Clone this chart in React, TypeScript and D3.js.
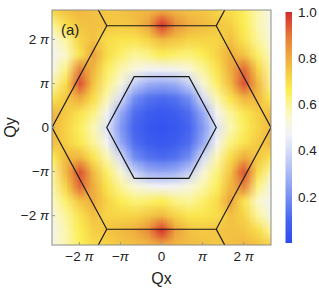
import React, { useMemo } from 'react'
import * as d3 from 'd3'

// grid of Q values (in units of pi), same for Qx and Qy
const qGrid = [-8/3, -7/3, -2, -5/3, -4/3, -1, -2/3, -1/3, 0, 1/3, 2/3, 1, 4/3, 5/3, 2, 7/3, 8/3]

// intensity, rows from Qy = 8π/3 (top) down to -8π/3
const field = [
  [0.72,0.76,0.78,0.76,0.74,0.76,0.77,0.78,0.80,0.78,0.76,0.75,0.72,0.70,0.65,0.58,0.50],
  [0.60,0.70,0.75,0.76,0.75,0.74,0.76,0.82,0.99,0.86,0.80,0.77,0.75,0.73,0.66,0.58,0.50],
  [0.50,0.60,0.72,0.76,0.70,0.68,0.68,0.72,0.78,0.75,0.72,0.72,0.72,0.76,0.68,0.60,0.52],
  [0.48,0.55,0.68,0.82,0.70,0.64,0.60,0.62,0.66,0.64,0.63,0.66,0.72,0.80,0.75,0.64,0.55],
  [0.50,0.62,0.88,0.78,0.65,0.58,0.52,0.48,0.47,0.49,0.53,0.60,0.68,0.80,0.92,0.72,0.58],
  [0.58,0.70,0.95,0.75,0.62,0.52,0.36,0.28,0.26,0.28,0.37,0.53,0.64,0.77,0.95,0.78,0.60],
  [0.68,0.75,0.80,0.70,0.57,0.40,0.19,0.13,0.11,0.13,0.19,0.40,0.57,0.68,0.78,0.78,0.66],
  [0.78,0.74,0.68,0.62,0.48,0.26,0.12,0.07,0.05,0.07,0.12,0.26,0.48,0.60,0.67,0.73,0.77],
  [0.78,0.72,0.65,0.57,0.42,0.22,0.10,0.05,0.03,0.05,0.10,0.22,0.42,0.57,0.65,0.72,0.78],
  [0.77,0.73,0.67,0.60,0.48,0.26,0.12,0.07,0.05,0.07,0.12,0.26,0.48,0.62,0.68,0.74,0.78],
  [0.66,0.78,0.78,0.68,0.57,0.40,0.19,0.13,0.11,0.13,0.19,0.40,0.57,0.70,0.80,0.75,0.68],
  [0.60,0.78,0.95,0.77,0.64,0.53,0.37,0.28,0.26,0.28,0.36,0.52,0.62,0.75,0.95,0.70,0.58],
  [0.58,0.72,0.92,0.80,0.68,0.60,0.53,0.49,0.47,0.48,0.52,0.58,0.65,0.78,0.88,0.62,0.50],
  [0.55,0.64,0.75,0.80,0.72,0.66,0.63,0.64,0.66,0.62,0.60,0.64,0.70,0.82,0.68,0.55,0.48],
  [0.52,0.60,0.68,0.76,0.72,0.72,0.72,0.75,0.78,0.72,0.68,0.68,0.70,0.76,0.72,0.60,0.50],
  [0.50,0.58,0.66,0.73,0.75,0.77,0.80,0.86,0.99,0.82,0.76,0.74,0.75,0.76,0.75,0.70,0.60],
  [0.50,0.58,0.65,0.70,0.72,0.75,0.76,0.78,0.80,0.78,0.77,0.76,0.74,0.76,0.78,0.76,0.72],
]

// colour map stops (from the legend bar)
const cbValues = [0, 0.1, 0.2, 0.3, 0.4, 0.47, 0.54, 0.6, 0.66, 0.72, 0.8, 0.9, 1.0]
const cbColors = ['#2c4cef', '#4564ef', '#7891f2', '#a8b8f5', '#d6ddf8', '#f2f2f6',
  '#faf8d2', '#fcf59a', '#fcee52', '#f7d446', '#efad3f', '#e4773a', '#d42a2e']
const cbTicks = [0.2, 0.4, 0.6, 0.8, 1.0]

// Brillouin zone corners (units of pi)
const innerX = [4/3, 2/3, -2/3, -4/3, -2/3, 2/3]
const innerY = [0, 1.1547, 1.1547, 0, -1.1547, -1.1547]
const outerX = [8/3, 4/3, -4/3, -8/3, -4/3, 4/3]
const outerY = [0, 2.3094, 2.3094, 0, -2.3094, -2.3094]
const spokeX = [16/3, 8/3, -8/3, -16/3, -8/3, 8/3]
const spokeY = [0, 4.6188, 4.6188, 0, -4.6188, -4.6188]

const tickVals = [-2, -1, 0, 1, 2]
const tickText = ['−2 ', '−', '0', '', '2 ']
const tickPi = [true, true, false, true, true]

const W = 319, H = 297
const left = 52, right = 271, top = 10, bottom = 245
const font = 'Liberation Sans, Arial, Helvetica, sans-serif'

export default function App() {
  const x = d3.scaleLinear().domain([-8/3, 8/3]).range([left, right])
  const y = d3.scaleLinear().domain([-8/3, 8/3]).range([bottom, top])
  const color = d3.scaleLinear<string>().domain(cbValues).range(cbColors).interpolate(d3.interpolateRgb)
  const cb = d3.scaleLinear().domain([0, 1]).range([243, 12])

  const fieldUrl = useMemo(() => {
    const n = qGrid.length
    const canvas = document.createElement('canvas')
    canvas.width = n
    canvas.height = n
    const ctx = canvas.getContext('2d')!
    const img = ctx.createImageData(n, n)
    field.forEach((row, r) => row.forEach((v, c) => {
      const col = d3.rgb(color(v))
      const k = (r * n + c) * 4
      img.data[k] = col.r
      img.data[k + 1] = col.g
      img.data[k + 2] = col.b
      img.data[k + 3] = 255
    }))
    ctx.putImageData(img, 0, 0)
    return canvas.toDataURL()
  }, [])

  const n = qGrid.length
  const dx = x(qGrid[1]) - x(qGrid[0])
  const dy = y(qGrid[0]) - y(qGrid[1])
  const line = d3.line<[number, number]>().x(d => x(d[0])).y(d => y(d[1]))
  const hex = (xs: number[], ys: number[]) => line(xs.map((v, i) => [v, ys[i]] as [number, number])) + 'Z'
  const spokes = outerX.map((v, i) => line([[v, outerY[i]], [spokeX[i], spokeY[i]]]))

  const label = (i: number) => (
    <>
      {tickText[i]}
      {tickPi[i] && <tspan fontStyle="italic">π</tspan>}
    </>
  )

  return (
    <svg width={W} height={H} style={{ position: 'absolute', left: 0, top: 0, background: '#fff' }}
      fontFamily={font}>
      <defs>
        <clipPath id="plot">
          <rect x={left} y={top} width={right - left} height={bottom - top} />
        </clipPath>
        <linearGradient id="cbar" x1="0" y1="1" x2="0" y2="0">
          {cbValues.map((v, i) => <stop key={i} offset={v} stopColor={cbColors[i]} />)}
        </linearGradient>
      </defs>
      <g clipPath="url(#plot)">
        <image href={fieldUrl} x={x(qGrid[0]) - dx / 2} y={y(qGrid[n - 1]) - dy / 2}
          width={dx * n} height={dy * n} preserveAspectRatio="none" />
        <path d={hex(innerX, innerY)} fill="none" stroke="#1a1a1a" strokeWidth={1.2} />
        <path d={hex(outerX, outerY)} fill="none" stroke="#1a1a1a" strokeWidth={1.2} />
        {spokes.map((d, i) => <path key={i} d={d!} fill="none" stroke="#1a1a1a" strokeWidth={1.2} />)}
      </g>
      <rect x={left} y={top} width={right - left} height={bottom - top} fill="none" stroke="#8c8c8c" strokeWidth={1} />
      {tickVals.map((t, i) => (
        <g key={i}>
          <line x1={x(t)} x2={x(t)} y1={bottom} y2={bottom - 3} stroke="#999" />
          <line x1={left} x2={left + 3} y1={y(t)} y2={y(t)} stroke="#999" />
          <text x={x(t)} y={bottom + 16} textAnchor="middle" fontSize={13.5} fill="#222">{label(i)}</text>
          <text x={left - 3} y={y(t)} dy="0.36em" textAnchor="end" fontSize={13.5} fill="#222">{label(i)}</text>
        </g>
      ))}
      <text x={(left + right) / 2} y={284} textAnchor="middle" fontSize={16} fill="#222">Qx</text>
      <text transform={`translate(15.5, ${(top + bottom) / 2}) rotate(-90)`} textAnchor="middle" fontSize={16} fill="#222">Qy</text>
      <text x={61} y={35} fontSize={15} fill="#222">(a)</text>
      <rect x={285.5} y={cb(1)} width={6.5} height={cb(0) - cb(1)} fill="url(#cbar)" />
      {cbTicks.map((t, i) => (
        <text key={i} x={298} y={cb(t)} dy="0.36em" fontSize={13.5} fill="#222">{t.toFixed(1)}</text>
      ))}
    </svg>
  )
}
